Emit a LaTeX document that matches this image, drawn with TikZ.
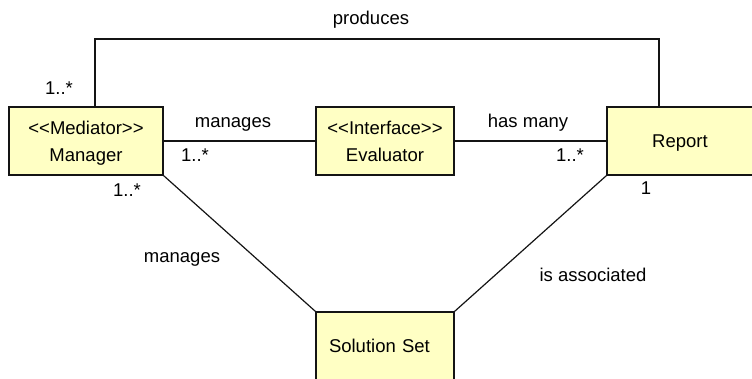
\documentclass[tikz,border=0pt]{standalone}
\usepackage{fontspec}
\setmainfont[Ligatures=TeXOff]{Liberation Sans}
\definecolor{classfill}{RGB}{255,255,196}
\definecolor{edge}{RGB}{20,20,20}
\begin{document}
\begin{tikzpicture}[x=1pt,y=-1pt,
  font=\fontsize{18.5}{27}\selectfont,
  classbox/.style={draw=edge, line width=1.4pt, fill=classfill, inner sep=0pt,
    minimum height=68pt, text depth=0pt, align=center},
  assoc/.style={draw=edge, line width=1.2pt},
  lbl/.style={inner sep=0pt, anchor=base}]
\useasboundingbox (0,0) rectangle (752,379);
\clip (0,0) rectangle (752,379);

% classes
\node[classbox, minimum width=154pt] (mgr) at (86,141) {<<Mediator>>\\Manager};
\node[classbox, minimum width=138pt] (eval) at (385,141) {<<Interface>>\\Evaluator};
\node[classbox, minimum width=146pt] (rep) at (680,141) {Report};
\node[classbox, minimum width=138pt, text width=112pt, inner xsep=13pt, align=left]
  (sol) at (385,346) {Solution Set};

% associations
\coordinate (pl) at ([xshift=9pt]mgr.north);
\coordinate (pr) at ([xshift=-21pt]rep.north);
\coordinate (ph) at (0,39);
\draw[assoc] (pl) -- (pl |- ph) -| (pr);
\draw[assoc] (mgr.east) -- (eval.west);
\draw[assoc] (eval.east) -- (rep.west);
\draw[assoc] (mgr.south east) -- (sol.north west);
\draw[assoc] (rep.south west) -- (sol.north east);

% association labels and multiplicities
\node[lbl] (tprod) at (371,25) {produces};
\node[lbl] (m1) at (59,95) {1..*};
\node[lbl] (tman1) at (233,128) {manages};
\node[lbl] (m2) at (195,162) {1..*};
\node[lbl] (m3) at (127,197) {1..*};
\node[lbl] (thas) at (528,128) {has many};
\node[lbl] (m4) at (570,162) {1..*};
\node[lbl] (m5) at (646,195) {1};
\node[lbl] (tman2) at (182,263) {manages};
\node[lbl] (tassoc) at (593,281) {is associated};
\end{tikzpicture}
\end{document}
